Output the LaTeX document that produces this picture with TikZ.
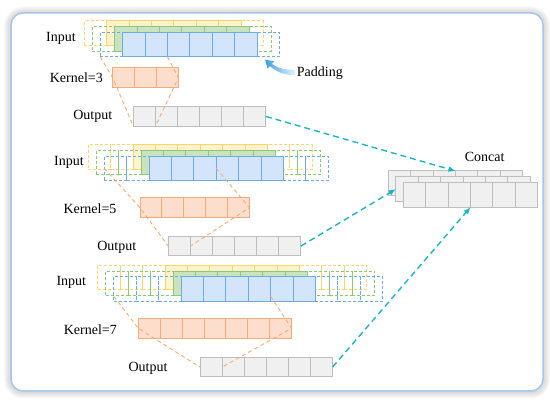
\documentclass[tikz,border=0pt]{standalone}
\usepackage{fontspec}
\setmainfont{Liberation Serif}
\usetikzlibrary{calc,arrows.meta}
\definecolor{yfill}{RGB}{255,242,204}
\definecolor{ydraw}{RGB}{255,214,102}
\definecolor{gfill}{RGB}{200,228,190}
\definecolor{gdraw}{RGB}{140,200,120}
\definecolor{bfill}{RGB}{210,229,250}
\definecolor{bdraw}{RGB}{110,170,230}
\definecolor{ofill}{RGB}{252,222,205}
\definecolor{odraw}{RGB}{248,170,120}
\definecolor{cfill}{RGB}{240,240,240}
\definecolor{cdraw}{RGB}{190,190,190}
\definecolor{arrowc}{RGB}{30,180,200}
\definecolor{padc}{RGB}{60,160,225}
\definecolor{framec}{RGB}{165,198,240}
\def\cw{22.4}
\tikzset{
  cellbase/.style={minimum width=\cw pt, minimum height=24.5pt, inner sep=0pt, outer sep=0pt, anchor=north west, line width=0.9pt},
  solidc/.style={cellbase, fill=#1fill, draw=#1draw},
  padcell/.style={cellbase, draw=#1draw, dash pattern=on 3pt off 2pt},
  kern/.style={cellbase, minimum width=21.9pt, minimum height=20pt, fill=ofill, draw=odraw},
  outc/.style={cellbase, minimum width=22.1pt, minimum height=19.5pt, fill=cfill, draw=cdraw},
  catc/.style={cellbase, minimum height=25pt, fill=cfill, draw=cdraw, line width=1pt},
  lbl/.style={font=\fontsize{14}{16}\selectfont, inner sep=0pt},
  guide/.style={draw=odraw, dash pattern=on 4pt off 3pt, line width=0.9pt},
  flow/.style={draw=arrowc, dash pattern=on 6pt off 4pt, line width=1.4pt, -{Latex[length=7pt,width=6pt]}},
}
\newcommand\inlayer[5]{%
  \foreach \i in {1,...,6}{\node[solidc=#5] (#1s\i) at ({#2+(\i-1)*\cw},#3) {};}
  \foreach \i in {1,...,#4}{%
    \node[padcell=#5] (#1l\i) at ({#2-\i*\cw},#3) {};
    \node[padcell=#5] (#1r\i) at ({#2+(5+\i)*\cw},#3) {};}
}
\begin{document}
\begin{tikzpicture}[x=1pt,y=-1pt]
\useasboundingbox (0,0) rectangle (550,403);
% frame with soft shadow
\foreach \k in {1,...,7}
  \fill[black, opacity=0.022, rounded corners={(12+\k)*1pt}] ({11-\k},{13-\k+0.5}) rectangle ({543+\k},{391+\k+0.5});
\draw[framec, fill=white, line width=1.5pt, rounded corners=12pt] (11,13) rectangle (543,391);

% ---------- block 1 ----------
\inlayer{y1}{106.7}{20.9}{1}{y}
\inlayer{g1}{114.7}{26.6}{1}{g}
\inlayer{b1}{122.7}{32.3}{1}{b}
\foreach \i in {1,...,3}{\node[kern] (k1c\i) at ({112.7+(\i-1)*21.9},67.7) {};}
\foreach \i in {1,...,6}{\node[outc] (o1c\i) at ({133.3+(\i-1)*22.1},106.7) {};}
\node[lbl] (in1) at (61,38) {Input};
\node[lbl] (kl1) at (76.3,78) {Kernel=3};
\node[lbl] (ol1) at (92.7,116) {Output};

% ---------- block 2 ----------
\inlayer{y2}{133}{144.8}{2}{y}
\inlayer{g2}{141}{150.4}{2}{g}
\inlayer{b2}{149}{156}{2}{b}
\foreach \i in {1,...,5}{\node[kern] (k2c\i) at ({140+(\i-1)*21.9},197.7) {};}
\foreach \i in {1,...,6}{\node[outc] (o2c\i) at ({168.3+(\i-1)*22.1},236.3) {};}
\node[lbl] (in2) at (69,162) {Input};
\node[lbl] (kl2) at (90,209) {Kernel=5};
\node[lbl] (ol2) at (116.7,247.3) {Output};

% ---------- block 3 ----------
\inlayer{y3}{165}{265.3}{3}{y}
\inlayer{g3}{173}{271}{3}{g}
\inlayer{b3}{181}{276.7}{3}{b}
\foreach \i in {1,...,7}{\node[kern] (k3c\i) at ({138.3+(\i-1)*21.9},318.3) {};}
\foreach \i in {1,...,6}{\node[outc] (o3c\i) at ({200+(\i-1)*22.1},357.3) {};}
\node[lbl] (in3) at (71.3,282.3) {Input};
\node[lbl] (kl3) at (90.3,330) {Kernel=7};
\node[lbl] (ol3) at (148,368.3) {Output};

% ---------- concat ----------
\foreach \i in {1,...,6}{\node[catc] (cb\i) at ({388.3+(\i-1)*\cw},171) {};}
\foreach \i in {1,...,6}{\node[catc] (cm\i) at ({395.8+(\i-1)*\cw},176.7) {};}
\foreach \i in {1,...,6}{\node[catc] (cf\i) at ({403.3+(\i-1)*\cw},182.3) {};}
\node[lbl] (cat) at (484.7,156.7) {Concat};

% ---------- guide lines ----------
\draw[guide] (b1l1.south west) -- (k1c1.west) -- (o1c1.south west);
\draw[guide] (b1s2.south east) -- (k1c3.east) -- (o1c1.south east);
\draw[guide] (b2l2.west) -- (k2c1.west) -- (o2c1.west);
\draw[guide] (b2s3.east) -- (k2c5.east) -- (o2c1.east);
\draw[guide] ($(b3l3.west)!0.6!(b3l3.south west)$) -- (k3c1.west) -- (o3c1.west);
\draw[guide] ($(b3s4.east)!0.6!(b3s4.south east)$) -- (k3c7.east) -- (o3c1.east);

% ---------- flow arrows ----------
\draw[flow] (o1c6.east) -- (cb3.north east);
\draw[flow] (o2c6.east) -- (cm1.west);
\draw[flow] (o3c6.east) -- (cf3.south east);

% ---------- padding ----------
\node[lbl, anchor=west] (pad) at (296.7,72.7) {Padding};
\coordinate (padtip) at (265.1,59.6);
\shade[left color=padc, right color=padc!12, shading angle=90]
  (295,69.9) .. controls (283,69.9) and (277,67.6) .. (272,63.9) -- (274.4,61.3) -- (padtip)
  -- (267.6,68.7) -- (270,66.1) .. controls (275,70.6) and (283,75.3) .. (295,75.3) -- cycle;
\end{tikzpicture}
\end{document}
